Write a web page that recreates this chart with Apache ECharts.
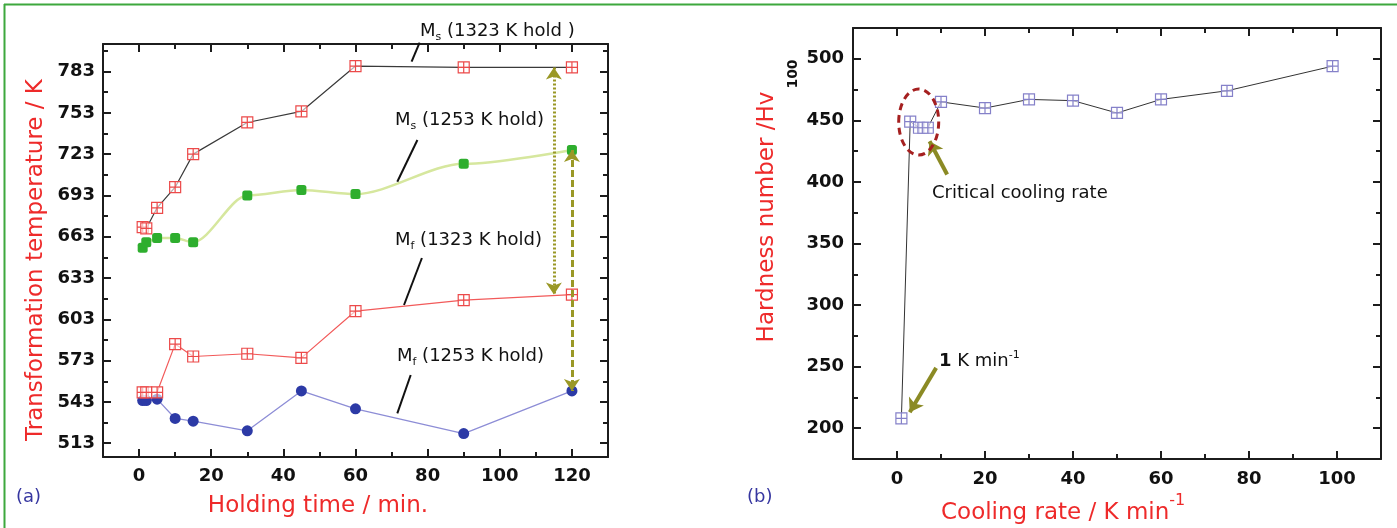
<!DOCTYPE html>
<html><head><meta charset="utf-8">
<script src="https://cdn.jsdelivr.net/npm/echarts@6/dist/echarts.min.js"></script>
<style>html,body{margin:0;padding:0;background:#fff}#c{width:1397px;height:528px}</style>
</head><body><div id="c"></div>
<script>
// ---- data ----
const holdTime = [1, 2, 5, 10, 15, 30, 45, 60, 90, 120];
const ms1323 = [670, 669, 684, 699, 723, 746, 754, 787, 786, 786];
const ms1253 = [655, 659, 662, 662, 659, 693, 697, 694, 716, 726];
const mf1323 = [550, 550, 550, 585, 576, 578, 575, 609, 617, 621];
const mf1253 = [544, 544, 545, 531, 529, 522, 551, 538, 520, 551];
const tempTicks = [513, 543, 573, 603, 633, 663, 693, 723, 753, 783];
const tempMinor = [528, 558, 588, 618, 648, 678, 708, 738, 768, 798];
const timeTicks = [0, 20, 40, 60, 80, 100, 120];
const timeMinor = [10, 30, 50, 70, 90, 110];

const coolRate = [1, 3, 5, 6, 7, 10, 20, 30, 40, 50, 60, 75, 99];
const hardness = [208, 449, 444, 444, 444, 465, 460, 467, 466, 456, 467, 474, 494];
const hardTicks = [200, 250, 300, 350, 400, 450, 500];
const hardMinor = [225, 275, 325, 375, 425, 475];
const rateTicks = [0, 20, 40, 60, 80, 100];
const rateMinor = [10, 30, 50, 70, 90];

// ---- helpers ----
const FONT = 'DejaVu Sans';
const AXC = '#1c1c1c';
const zip = (a, b) => a.map((v, i) => [v, b[i]]);
const mctx = document.createElement('canvas').getContext('2d');
function tw(t, size, weight) { mctx.font = (weight || 'normal') + ' ' + size + 'px "' + FONT + '"'; return mctx.measureText(t).width; }
function txt(x, y, t, o) {
  o = o || {};
  return { type: 'text', x: x, y: y, z: 100, rotation: o.rot || 0, silent: true,
    style: { text: t, fill: o.color || '#111', fontSize: o.size || 18, fontWeight: o.weight || 'normal', fontFamily: FONT,
      align: o.align || 'left', verticalAlign: 'middle', textAlign: o.align || 'left', textVerticalAlign: 'middle' } };
}
function runs(x, y, parts) {
  const els = []; let cx = x;
  parts.forEach(p => { els.push(txt(cx, y + (p.dy || 0), p.t, p)); cx += tw(p.t, p.size || 18, p.weight); });
  return els;
}
function line(x1, y1, x2, y2, color, w) {
  return { type: 'line', z: 100, silent: true, shape: { x1: x1, y1: y1, x2: x2, y2: y2 }, style: { stroke: color, lineWidth: w } };
}
function axes(dim, gridIndex, min, max, major, minor, margin) {
  const pos = dim === 'x' ? ['bottom', 'top'] : ['left', 'right'];
  const list = [];
  pos.forEach((p, k) => {
    list.push({ type: 'value', gridIndex: gridIndex, position: p, min: min, max: max,
      axisLine: { show: true, onZero: false, lineStyle: { color: AXC, width: 2 } },
      axisTick: { show: true, inside: true, length: 8, customValues: major, lineStyle: { color: AXC, width: 2 } },
      axisLabel: { show: k === 0, customValues: major, margin: margin, color: '#111', fontFamily: FONT, fontWeight: 'bold', fontSize: 18 },
      splitLine: { show: false } });
    list.push({ type: 'value', gridIndex: gridIndex, position: p, min: min, max: max,
      axisLine: { show: false, onZero: false },
      axisTick: { show: true, inside: true, length: 5, customValues: minor, lineStyle: { color: AXC, width: 2 } },
      axisLabel: { show: false }, splitLine: { show: false } });
  });
  return list;
}

const boxSym = 'path://M0,0L10,0L10,10L0,10ZM5,0L5,10M0,5L10,5';
const OLIVE = '#9a9826';

const option = {
  backgroundColor: '#fff',
  animation: false,
  grid: [
    { left: 103, top: 44, width: 505, height: 413 },
    { left: 853, top: 28, width: 528, height: 431 }
  ],
  xAxis: [].concat(axes('x', 0, -10, 130, timeTicks, timeMinor, 10), axes('x', 1, -10, 110, rateTicks, rateMinor, 11)),
  yAxis: [].concat(axes('y', 0, 503, 803, tempTicks, tempMinor, 8), axes('y', 1, 175, 525, hardTicks, hardMinor, 9)),
  series: [
    { name: 'Ms 1323', type: 'line', xAxisIndex: 0, yAxisIndex: 0, data: zip(holdTime, ms1323),
      symbol: boxSym, symbolSize: 11, z: 4,
      itemStyle: { color: 'rgba(255,255,255,0.6)', borderColor: '#ec4a4a', borderWidth: 1.2 },
      lineStyle: { color: '#3a3a3a', width: 1.2 },
      markLine: { silent: true, symbol: ['arrow', 'arrow'], symbolSize: 12, label: { show: false },
        lineStyle: { type: [2, 2], color: OLIVE, width: 3 },
        data: [[{ coord: [115, ms1323[9]] }, { coord: [115, mf1323[9]] }]] } },
    { name: 'Ms 1253', type: 'line', xAxisIndex: 0, yAxisIndex: 0, data: zip(holdTime, ms1253),
      symbol: 'roundRect', symbolSize: 10, smooth: 0.3, smoothMonotone: 'x', z: 3,
      itemStyle: { color: '#2eae2e' },
      lineStyle: { color: '#d6e79e', width: 2.5 },
      markLine: { silent: true, symbol: ['arrow', 'arrow'], symbolSize: 12, label: { show: false },
        lineStyle: { type: [7, 3], color: OLIVE, width: 3 },
        data: [[{ coord: [120, ms1253[9]] }, { coord: [120, mf1253[9]] }]] } },
    { name: 'Mf 1323', type: 'line', xAxisIndex: 0, yAxisIndex: 0, data: zip(holdTime, mf1323),
      symbol: boxSym, symbolSize: 11, z: 4,
      itemStyle: { color: 'rgba(255,255,255,0.6)', borderColor: '#ec4a4a', borderWidth: 1.2 },
      lineStyle: { color: '#f25a5a', width: 1.2 } },
    { name: 'Mf 1253', type: 'line', xAxisIndex: 0, yAxisIndex: 0, data: zip(holdTime, mf1253),
      symbol: 'circle', symbolSize: 11, z: 3,
      itemStyle: { color: '#2c3aa6' },
      lineStyle: { color: '#8d8dd6', width: 1.3 } },
    { name: 'Hardness', type: 'line', xAxisIndex: 4, yAxisIndex: 4, data: zip(coolRate, hardness),
      symbol: boxSym, symbolSize: 11, z: 4,
      itemStyle: { color: 'rgba(255,255,255,0.6)', borderColor: '#8581c9', borderWidth: 1.2 },
      lineStyle: { color: '#333', width: 1 },
      markLine: { silent: true, symbol: ['none', 'arrow'], symbolSize: 13, label: { show: false },
        lineStyle: { type: 'solid', color: '#8b8a24', width: 4 },
        data: [
          [{ coord: [11.4, 406] }, { coord: [7.4, 433] }],
          [{ coord: [8.9, 249] }, { coord: [2.9, 213] }]
        ] } }
  ],
  graphic: [].concat(
    [line(4, 4.5, 1397, 4.5, '#3da83d', 2), line(4.5, 4, 4.5, 528, '#3da83d', 2)],
    // panel (a) annotations
    runs(420, 31, [{ t: 'M' }, { t: 's', size: 11, dy: 6 }, { t: ' (1323 K hold )' }]),
    runs(395, 120, [{ t: 'M' }, { t: 's', size: 11, dy: 6 }, { t: ' (1253 K hold)' }]),
    runs(395, 240, [{ t: 'M' }, { t: 'f', size: 11, dy: 6 }, { t: ' (1323 K hold)' }]),
    runs(397, 356, [{ t: 'M' }, { t: 'f', size: 11, dy: 6 }, { t: ' (1253 K hold)' }]),
    [line(419.6, 42.7, 411.6, 61.7, '#111', 2), line(417.4, 140, 397.3, 181.7, '#111', 2),
     line(421.9, 258, 404, 305, '#111', 2), line(410.7, 375, 397.3, 413.3, '#111', 2)],
    [txt(36, 260, 'Transformation temperature / K', { color: '#ee2a2a', size: 23, align: 'center', rot: Math.PI / 2 }),
     txt(318, 506, 'Holding time / min.', { color: '#ee2a2a', size: 23, align: 'center' }),
     txt(16, 497, '(a)', { color: '#3636a0', size: 18 })],
    // panel (b) annotations
    [{ type: 'ellipse', z: 100, silent: true, shape: { cx: 918.7, cy: 122, rx: 20, ry: 33 },
       style: { fill: 'none', stroke: '#a52020', lineWidth: 3, lineDash: [7, 5] } }],
    [txt(932, 193, 'Critical cooling rate', { size: 18 })],
    runs(939, 361, [{ t: '1', weight: 'bold' }, { t: ' K min' }, { t: '-1', size: 11, dy: -6 }]),
    [txt(767, 217, 'Hardness number /Hv', { color: '#ee2a2a', size: 23, align: 'center', rot: Math.PI / 2 }),
     txt(793, 74, '100', { color: '#111', size: 14, weight: 'bold', align: 'center', rot: Math.PI / 2 })],
    runs(941, 513, [{ t: 'Cooling rate / K min', size: 23, color: '#ee2a2a' }, { t: '-1', size: 16, dy: -12, color: '#ee2a2a' }]),
    [txt(747, 497, '(b)', { color: '#3636a0', size: 18 })]
  )
};
const chart = echarts.init(document.getElementById('c'));
chart.setOption(option);
</script>
</body></html>
